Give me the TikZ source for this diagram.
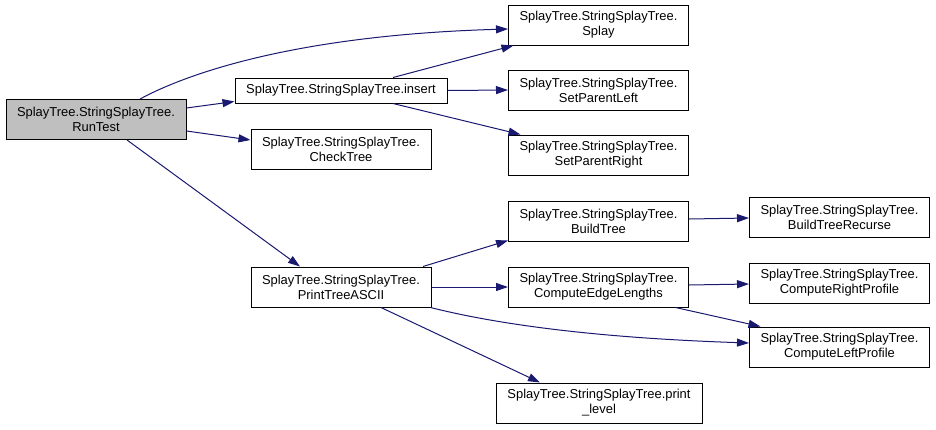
\documentclass[tikz,border=0pt]{standalone}
\usepackage{fontspec}
\setmainfont{Liberation Sans}
\usetikzlibrary{arrows.meta,calc}
\definecolor{edgecol}{HTML}{191970}
\definecolor{rootfill}{HTML}{BFBFBF}
\tikzset{
  fnbox/.style={draw=black, line width=0.75pt, rectangle, inner sep=0pt, align=center,
    minimum width=135pt, minimum height=30pt, fill=white,
    font=\fontsize{9.7}{11.2}\selectfont},
  rootbox/.style={fnbox, fill=rootfill},
  call/.style={draw=edgecol, line width=0.75pt, -{Triangle[length=9pt,width=6pt]}, fill=none},
}
\begin{document}
\begin{tikzpicture}[x=0.75pt,y=-0.75pt]
\useasboundingbox (0,0) rectangle (936,429);
\node[rootbox] (rt) at (96,119.5) {SplayTree.StringSplayTree.\\RunTest};
\node[fnbox, minimum width=159pt, minimum height=18.75pt] (ins) at (341,90.5) {SplayTree.StringSplayTree.insert};
\node[fnbox] (ct) at (341,149) {SplayTree.StringSplayTree.\\CheckTree};
\node[fnbox] (sp) at (598.5,25) {SplayTree.StringSplayTree.\\Splay};
\node[fnbox] (spl) at (598.5,90) {SplayTree.StringSplayTree.\\SetParentLeft};
\node[fnbox] (spr) at (598.5,155) {SplayTree.StringSplayTree.\\SetParentRight};
\node[fnbox] (pt) at (341,287) {SplayTree.StringSplayTree.\\PrintTreeASCII};
\node[fnbox] (bt) at (598.5,221) {SplayTree.StringSplayTree.\\BuildTree};
\node[fnbox] (cel) at (598.5,287) {SplayTree.StringSplayTree.\\ComputeEdgeLengths};
\node[fnbox, minimum width=154.5pt] (pl) at (599,403) {SplayTree.StringSplayTree.print\\\_level};
\node[fnbox] (btr) at (839.5,217) {SplayTree.StringSplayTree.\\BuildTreeRecurse};
\node[fnbox] (crp) at (839.5,283) {SplayTree.StringSplayTree.\\ComputeRightProfile};
\node[fnbox] (clp) at (839.5,347) {SplayTree.StringSplayTree.\\ComputeLeftProfile};

\draw[call] ($(rt.north)+(44,0)$) .. controls (190,72) and (300,35) .. ($(sp.west)+(0,4)$);
\draw[call] ($(rt.east)+(0,-11.5)$) -- ($(ins.west)+(0,11)$);
\draw[call] ($(rt.east)+(0,11.5)$) -- ($(ct.west)+(0,-9)$);
\draw[call] ($(rt.south)+(31,0)$) -- ($(pt.north)+(-41,0)$);
\draw[call] ($(ins.north)+(52,0)$) -- ($(sp.south)+(-85,0)$);
\draw[call] (ins.east) -- (spl.west);
\draw[call] ($(ins.south)+(52,0)$) -- ($(spr.north)+(-78,0)$);
\draw[call] ($(pt.north)+(82,0)$) -- ($(bt.south west)+(0,-1)$);
\draw[call] (pt.east) -- (cel.west);
\draw[call] ($(pt.south east)+(-1,0)$) .. controls (500,325) and (600,338) .. ($(clp.west)+(0,-4)$);
\draw[call] ($(pt.south)+(40,0)$) -- ($(pl.north)+(-59,0)$);
\draw[call] ($(bt.east)+(0,-2)$) -- ($(btr.west)+(0,1)$);
\draw[call] ($(cel.east)+(0,-2)$) -- ($(crp.west)+(0,1)$);
\draw[call] ($(cel.south)+(77,0)$) -- ($(clp.north)+(-79,0)$);
\end{tikzpicture}
\end{document}
